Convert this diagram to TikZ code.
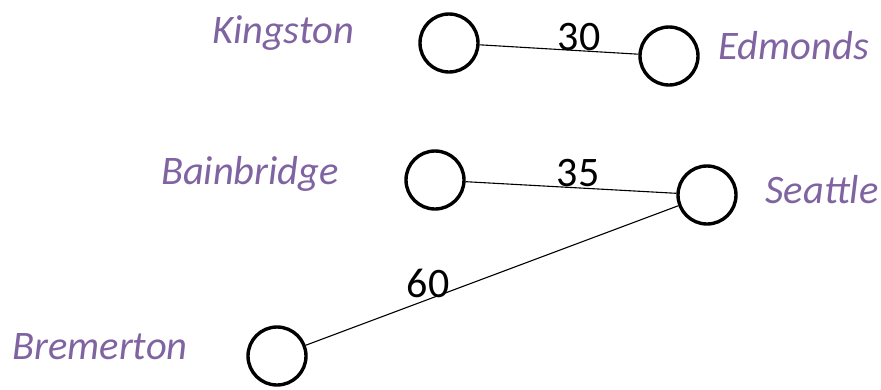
\documentclass[tikz,border=0pt]{standalone}
\usepackage{fontspec}
\setmainfont{Carlito}
\definecolor{cityc}{HTML}{8064A2}
\begin{document}
\begin{tikzpicture}[x=1pt,y=-1pt,
  town/.style={circle,draw=black,line width=3.4pt,minimum size=58pt,inner sep=0pt},
  city/.style={text=cityc,font=\fontsize{40.5}{44}\selectfont\itshape,inner sep=0pt},
  wt/.style={text=black,font=\fontsize{42}{44}\selectfont,inner sep=0pt},
  edge/.style={draw=black,line width=1.1pt}]
\useasboundingbox (0,0) rectangle (881,389);
\node[town] (K) at (449,43) {};
\node[town] (E) at (669,56) {};
\node[town] (B) at (435,180) {};
\node[town] (S) at (707,195) {};
\node[town] (M) at (277,356) {};
\node[city] (lK) at (283,33) {Kingston};
\node[city] (lE) at (794,46) {Edmonds};
\node[city] (lB) at (250,174) {Bainbridge};
\node[city] (lS) at (822,190) {Seattle};
\node[city] (lM) at (100,347) {Bremerton};
\draw[edge] (K) -- (E);
\draw[edge] (B) -- (S);
\draw[edge] (M) -- (S);
\node[wt] (w1) at (579,37) {30};
\node[wt] (w2) at (578,173) {35};
\node[wt] (w3) at (428,283) {60};
\end{tikzpicture}
\end{document}
